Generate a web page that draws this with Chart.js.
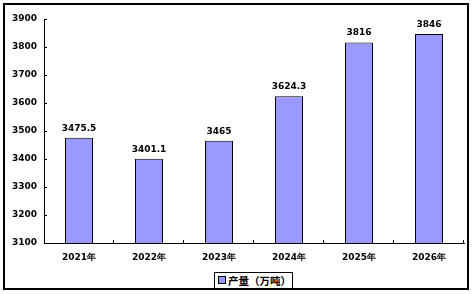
<!DOCTYPE html>
<html>
<head>
<meta charset="utf-8">
<script src="https://cdn.jsdelivr.net/npm/chart.js@4"></script>
<style>
  html, body { margin: 0; padding: 0; background: #fff; }
  #wrap { position: relative; width: 475px; height: 294px; }
  #frame { position: absolute; left: 3px; top: 3px; width: 466px; height: 287px; border: 2px solid #000; box-sizing: border-box; pointer-events: none; }
  #legend { position: absolute; left: 214px; top: 272px; width: 79px; height: 17px; border: 1px solid #000; box-sizing: border-box; background: #fff;
    font: bold 10.5px "Noto Sans CJK SC", sans-serif; line-height: 15px; color: #000; white-space: nowrap; }
  #legend i { display: inline-block; width: 6px; height: 6px; background: #9999FF; border: 1px solid #000; margin: 0 2px 0 3px; vertical-align: 1px; }
</style>
</head>
<body>
<div id="wrap">
  <canvas id="c" width="475" height="294"></canvas>
  <div id="frame"></div>
  <div id="legend"><i></i>产量（万吨）</div>
</div>
<script>
const categories = ['2021年', '2022年', '2023年', '2024年', '2025年', '2026年'];
const output = [3475.5, 3401.1, 3465, 3624.3, 3816, 3846];
const seriesName = '产量（万吨）';
const yMin = 3100, yMax = 3900, yStep = 100;

const FONT = "'DejaVu Sans', sans-serif";

// value labels above each bar
const valueLabels = {
  id: 'valueLabels',
  afterDatasetsDraw(chart) {
    const ctx = chart.ctx;
    const meta = chart.getDatasetMeta(0);
    ctx.save();
    ctx.font = 'bold 9px ' + FONT;
    ctx.fillStyle = '#000';
    ctx.textAlign = 'center';
    ctx.textBaseline = 'bottom';
    meta.data.forEach((bar, i) => {
      ctx.fillText(String(output[i]), bar.x, bar.y - 5);
    });
    ctx.restore();
  }
};

// small inward tick marks like the original
const innerTicks = {
  id: 'innerTicks',
  afterDraw(chart) {
    const ctx = chart.ctx;
    const x = chart.scales.x, y = chart.scales.y;
    const area = chart.chartArea;
    ctx.save();
    ctx.strokeStyle = '#000';
    ctx.lineWidth = 1;
    ctx.beginPath();
    y.ticks.forEach((t, i) => {
      const py = Math.round(y.getPixelForTick(i)) + 0.5;
      ctx.moveTo(area.left, py);
      ctx.lineTo(area.left + 3, py);
    });
    const step = (area.right - area.left) / categories.length;
    for (let k = 1; k <= categories.length; k++) {
      const px = Math.round(area.left + step * k) - 0.5;
      ctx.moveTo(px, area.bottom);
      ctx.lineTo(px, area.bottom - 3);
    }
    ctx.stroke();
    ctx.restore();
  }
};

new Chart(document.getElementById('c').getContext('2d'), {
  type: 'bar',
  data: {
    labels: categories,
    datasets: [{
      label: seriesName,
      data: output,
      backgroundColor: '#9999FF',
      borderColor: '#000',
      borderWidth: 1,
      borderSkipped: 'bottom',
      categoryPercentage: 1,
      barPercentage: 0.4
    }]
  },
  options: {
    responsive: false,
    animation: false,
    layout: { padding: { left: 0, right: 11, top: 19, bottom: 21 } },
    plugins: { legend: { display: false }, tooltip: { enabled: false } },
    scales: {
      y: {
        min: yMin, max: yMax,
        ticks: { stepSize: yStep, color: '#000', padding: 7, font: { family: FONT, size: 9, weight: 'bold' },
          callback: (v) => String(v) },
        grid: { display: false, drawTicks: false },
        border: { color: '#000', width: 1 },
        afterFit(s) { s.width = 44; }
      },
      x: {
        ticks: { color: '#000', padding: 9, font: { family: FONT, size: 9, weight: 'bold' } },
        grid: { display: false, drawTicks: false },
        border: { color: '#000', width: 1 },
        afterFit(s) { s.height = 30; }
      }
    }
  },
  plugins: [valueLabels, innerTicks]
});
</script>
</body>
</html>
